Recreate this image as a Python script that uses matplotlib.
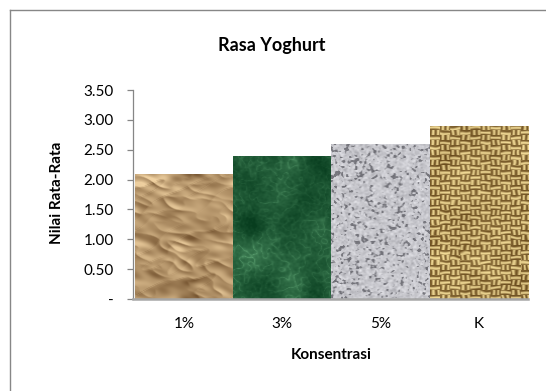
import numpy as np
import matplotlib
matplotlib.use('Agg')
import matplotlib.pyplot as plt
from matplotlib.lines import Line2D

categories = ['1%', '3%', '5%', 'K']
nilai = [2.10, 2.40, 2.60, 2.90]
y_ticks = [0.0, 0.5, 1.0, 1.5, 2.0, 2.5, 3.0, 3.5]
y_tick_labels = ['-', '0.50', '1.00', '1.50', '2.00', '2.50', '3.00', '3.50']

plt.rcParams['font.family'] = ['Lato', 'DejaVu Sans']

rng = np.random.default_rng(7)


def blur(a, s1, s2=None, angle=0.0):
    # gaussian blur in fourier space, optionally stretched along a direction
    s2 = s1 if s2 is None else s2
    ky = np.fft.fftfreq(a.shape[0])[:, None]
    kx = np.fft.fftfreq(a.shape[1])[None, :]
    c, s = np.cos(angle), np.sin(angle)
    u = kx * c + ky * s
    v = -kx * s + ky * c
    g = np.exp(-2 * np.pi ** 2 * ((u * s1) ** 2 + (v * s2) ** 2))
    return np.real(np.fft.ifft2(np.fft.fft2(a) * g))


def norm(a):
    return (a - a.min()) / (a.max() - a.min() + 1e-12)


def mix(dark, light, t):
    dark = np.array(dark)
    light = np.array(light)
    return np.clip(dark + (light - dark) * t[..., None], 0, 1)


def paper_texture(h, w):
    n = blur(rng.standard_normal((h, w)), 12, 4, angle=-0.55)
    n = n / n.std()
    m = blur(rng.standard_normal((h, w)), 7, 3, angle=0.3)
    m = m / m.std()
    hf = -np.abs(n) - 0.5 * np.abs(m) + 0.4 * n
    gy, gx = np.gradient(hf)
    shade = norm(np.clip(-gx * 0.8 + gy * 0.6, -0.35, 0.35))
    shade = np.clip(0.85 * shade + 0.15 * norm(blur(rng.standard_normal((h, w)), 10)), 0, 1)
    return mix((0.45, 0.32, 0.18), (0.95, 0.83, 0.64), shade)


def marble_texture(h, w):
    cloud = norm(blur(rng.standard_normal((h, w)), 10))
    v = blur(rng.standard_normal((h, w)), 2.2)
    veins = np.exp(-np.abs(v / v.std()) * 3.0)
    fine = norm(blur(rng.standard_normal((h, w)), 0.8))
    t = np.clip(0.45 * cloud + 0.35 * veins * cloud + 0.2 * fine - 0.1, 0, 1)
    return mix((0.03, 0.24, 0.12), (0.42, 0.70, 0.50), t)


def granite_texture(h, w):
    base = norm(blur(rng.standard_normal((h, w)), 0.8))
    s = blur(rng.standard_normal((h, w)), 0.9)
    s = s / s.std()
    spots = np.clip((s + 1.6) / 0.9, 0, 1)
    t = (0.6 + 0.4 * base) * (0.4 + 0.6 * spots)
    return mix((0.24, 0.24, 0.27), (0.92, 0.92, 0.94), np.clip(t, 0, 1))


def burlap_texture(h, w):
    yy, xx = np.mgrid[0:h, 0:w].astype(float)
    p = 5.0
    jy = yy + 0.8 * blur(rng.standard_normal((h, w)), 3) * 6
    jx = xx + 0.8 * blur(rng.standard_normal((h, w)), 3) * 6
    prof_y = np.sin(np.pi * (jy % p) / p) ** 2
    prof_x = np.sin(np.pi * (jx % p) / p) ** 2
    over = ((np.floor(xx / (p * 2)) + np.floor(yy / p)) % 2 == 0)
    t = np.where(over, prof_y, prof_x)
    t = np.clip(0.8 * t + 0.2 * norm(blur(rng.standard_normal((h, w)), 6)), 0, 1)
    return mix((0.40, 0.28, 0.10), (0.96, 0.87, 0.60), t)


textures = [paper_texture, marble_texture, granite_texture, burlap_texture]

fig = plt.figure(figsize=(5.46, 3.91), dpi=100)
ax = fig.add_axes([133 / 546, 1 - 299 / 391, (528 - 133) / 546, (299 - 90) / 391])

x = np.arange(len(categories))
bars = ax.bar(x, nilai, width=1.0, color='none', edgecolor='none', zorder=1)

for bar, make_tex in zip(bars, textures):
    h_px = int(bar.get_height() * 60)
    tex = make_tex(h_px, 98)
    x0 = bar.get_x()
    im = ax.imshow(tex, extent=(x0, x0 + bar.get_width(), 0, bar.get_height()),
                   origin='upper', aspect='auto', interpolation='bilinear', zorder=2)
    im.set_clip_path(bar)

ax.set_xlim(-0.52, 3.5)
ax.set_ylim(0, 3.5)
ax.set_yticks(y_ticks)
ax.set_yticklabels(y_tick_labels)
ax.set_xticks(x)
ax.set_xticklabels(categories)

for side in ['top', 'right']:
    ax.spines[side].set_visible(False)
ax.spines['left'].set_color('#868686')
ax.spines['left'].set_linewidth(0.9)
ax.spines['bottom'].set_color('#a6a6a6')
ax.spines['bottom'].set_linewidth(1.8)
ax.spines['bottom'].set_zorder(3)
ax.tick_params(axis='y', direction='out', length=4, width=0.9, color='#868686',
               labelsize=11, pad=10)
ax.tick_params(axis='x', length=0, labelsize=11, pad=13)

fig.text(331 / 546, 1 - 355 / 391, 'Konsentrasi', ha='center', va='center',
         fontsize=11, fontweight='bold')
fig.text(57 / 546, 1 - 193 / 391, 'Nilai Rata-Rata', ha='center', va='center',
         rotation=90, fontsize=11, fontweight='bold')
fig.text(272 / 546, 1 - 45 / 391, 'Rasa Yoghurt', ha='center', va='center',
         fontsize=13, fontweight='bold')

# chart frame (runs past the right and bottom edges)
fig.add_artist(Line2D([10 / 546, 10 / 546], [0, 1 - 9.5 / 391], color='#878787', lw=1.0))
fig.add_artist(Line2D([10 / 546, 1], [1 - 9.5 / 391, 1 - 9.5 / 391], color='#878787', lw=1.0))

fig.savefig('out.png', dpi=100)
